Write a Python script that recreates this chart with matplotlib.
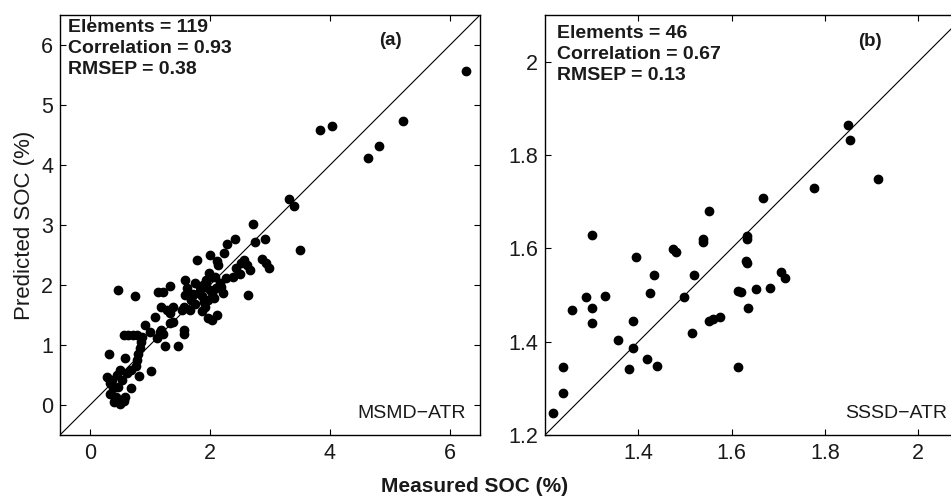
import matplotlib
matplotlib.use("Agg")
import matplotlib.pyplot as plt

plt.rcParams['font.family'] = ['Liberation Sans', 'DejaVu Sans']

# ---- Panel (a) data: MSMD-ATR ----
a_measured = [6.27, 5.22, 3.83, 4.03, 4.82, 4.64, 3.32, 3.40, 3.50, 2.72,
              2.75, 2.92, 2.42, 2.29, 2.23, 2.00, 2.12, 1.78, 2.86, 2.94,
              2.98, 2.56, 2.62, 2.44, 2.50, 2.39, 2.64, 2.52, 2.66,
              0.46, 0.75, 0.31, 0.59, 1.02, 0.57, 0.64, 0.71, 0.78, 0.86,
              0.85, 0.83, 0.80, 0.78, 0.76, 0.29, 0.33, 0.39, 0.44, 0.50,
              0.56, 0.69, 0.81, 0.33, 0.42, 0.47, 0.61, 0.69, 0.50, 0.53,
              0.58, 0.37, 0.45, 0.40,
              1.11, 0.92, 1.00, 1.19, 1.08, 1.19, 1.33, 1.39, 1.53, 1.58,
              1.14, 1.22, 1.33, 1.58, 1.28, 1.39, 1.33, 1.56, 1.17, 1.25,
              1.47, 1.22, 1.56,
              1.69, 1.81, 1.86, 1.97, 2.11, 1.92, 2.03, 2.17, 2.14, 1.75,
              1.83, 1.94, 2.08, 2.00, 1.86, 2.06, 2.22, 1.75, 1.92, 1.67,
              1.56, 2.03, 1.94, 2.03, 1.97, 2.19,
              1.88, 2.10, 1.98, 1.72, 2.26, 1.90, 1.62]
a_predicted = [5.56, 4.73, 4.58, 4.65, 4.32, 4.11, 3.43, 3.32, 2.58, 3.02,
               2.72, 2.76, 2.76, 2.68, 2.54, 2.50, 2.40, 2.42, 2.44, 2.36,
               2.28, 2.42, 2.33, 2.28, 2.19, 2.14, 1.83, 2.36, 2.25,
               1.92, 1.82, 0.85, 0.78, 0.57, 1.16, 1.17, 1.16, 1.16, 1.14,
               1.05, 0.95, 0.85, 0.75, 0.65, 0.46, 0.36, 0.28, 0.14, 0.02,
               0.06, 0.28, 0.48, 0.19, 0.08, 0.30, 0.53, 0.58, 0.58, 0.42,
               0.14, 0.42, 0.50, 0.05,
               1.11, 1.33, 1.22, 1.25, 1.47, 1.64, 1.53, 1.39, 1.58, 1.83,
               1.88, 1.88, 1.99, 2.08, 1.58, 1.64, 1.36, 1.25, 1.22, 0.98,
               0.98, 1.19, 1.19,
               1.75, 1.86, 1.56, 1.45, 1.50, 1.97, 2.14, 2.03, 2.33, 2.03,
               1.97, 2.08, 2.14, 1.92, 1.81, 1.78, 1.86, 1.69, 1.64, 1.58,
               1.64, 1.42, 2.03, 1.86, 1.75, 1.97,
               2.00, 1.95, 2.20, 1.85, 2.12, 1.72, 1.95]

# ---- Panel (b) data: SSSD-ATR ----
b_measured = [1.850, 1.854, 1.913, 1.777, 1.668, 1.552, 1.300, 1.539, 1.539, 1.633,
              1.633, 1.475, 1.481, 1.395, 1.631, 1.632, 1.434, 1.519, 1.706, 1.714,
              1.288, 1.329, 1.425, 1.498, 1.613, 1.620, 1.652, 1.682, 1.257, 1.300,
              1.388, 1.300, 1.552, 1.561, 1.575, 1.636, 1.514, 1.356, 1.388, 1.419,
              1.441, 1.381, 1.613, 1.239, 1.239, 1.218]
b_predicted = [1.864, 1.832, 1.748, 1.730, 1.707, 1.679, 1.628, 1.621, 1.613, 1.627,
               1.620, 1.598, 1.593, 1.581, 1.573, 1.568, 1.543, 1.543, 1.550, 1.536,
               1.495, 1.498, 1.504, 1.495, 1.509, 1.506, 1.513, 1.514, 1.468, 1.473,
               1.445, 1.439, 1.445, 1.448, 1.452, 1.473, 1.418, 1.404, 1.386, 1.363,
               1.348, 1.341, 1.345, 1.345, 1.289, 1.247]

a_stats = ["Elements = 119", "Correlation = 0.93", "RMSEP = 0.38"]
b_stats = ["Elements = 46", "Correlation = 0.67", "RMSEP = 0.13"]
a_xticks = [0, 2, 4, 6]
a_yticks = [0, 1, 2, 3, 4, 5, 6]
b_xticks = [1.4, 1.6, 1.8, 2.0]
b_xticklabels = ["1.4", "1.6", "1.8", "2"]
b_yticks = [1.2, 1.4, 1.6, 1.8, 2.0]
b_yticklabels = ["1.2", "1.4", "1.6", "1.8", "2"]

W, H = 951, 499
fig = plt.figure(figsize=(W / 100, H / 100), dpi=100)
axa = fig.add_axes([60 / W, (H - 435) / H, 420 / W, 420 / H])
axb = fig.add_axes([545 / W, (H - 435) / H, 420 / W, 420 / H])

TXT = '#1a1a1a'


def style(ax):
    for s in ax.spines.values():
        s.set_linewidth(1.0)
    ax.tick_params(direction='in', length=4, width=0.8, top=True, right=True,
                   labelsize=15.5, labelcolor=TXT)
    ax.tick_params(axis='x', pad=6)
    ax.tick_params(axis='y', pad=5)


# Panel a
axa.plot(a_measured, a_predicted, 'o', color='black', markersize=6)
axa.plot([-0.5, 6.5], [-0.5, 6.5], color='black', lw=0.8)
axa.set_xlim(-0.5, 6.5)
axa.set_ylim(-0.5, 6.5)
axa.set_xticks(a_xticks)
axa.set_yticks(a_yticks)
style(axa)
axa.text(0.019, 0.99, "\n".join(a_stats), transform=axa.transAxes, ha='left', va='top',
         fontsize=14, fontweight='bold', color=TXT, linespacing=1.3)
axa.text(0.786, 0.94, "(a)", transform=axa.transAxes, ha='center', va='center',
         fontsize=13.5, fontweight='bold', color=TXT)
axa.text(0.967, 0.052, "MSMD\u2212ATR", transform=axa.transAxes, ha='right', va='center',
         fontsize=14, color=TXT)
axa.set_ylabel("Predicted SOC (%)", fontsize=16, labelpad=4, color=TXT)

# Panel b
axb.plot(b_measured, b_predicted, 'o', color='black', markersize=6)
axb.plot([1.2, 2.1], [1.2, 2.1], color='black', lw=0.8)
axb.set_xlim(1.2, 2.1)
axb.set_ylim(1.2, 2.1)
axb.set_xticks(b_xticks)
axb.set_xticklabels(b_xticklabels)
axb.set_yticks(b_yticks)
axb.set_yticklabels(b_yticklabels)
style(axb)
axb.text(0.029, 0.975, "\n".join(b_stats), transform=axb.transAxes, ha='left', va='top',
         fontsize=14, fontweight='bold', color=TXT, linespacing=1.3)
axb.text(0.774, 0.936, "(b)", transform=axb.transAxes, ha='center', va='center',
         fontsize=13.5, fontweight='bold', color=TXT)
axb.text(0.957, 0.052, "SSSD\u2212ATR", transform=axb.transAxes, ha='right', va='center',
         fontsize=14, color=TXT)

fig.text(475 / W, 1 - 487 / H, "Measured SOC (%)", ha='center', va='center',
         fontsize=15, fontweight='bold', color=TXT)

fig.savefig("out.png", dpi=100)
